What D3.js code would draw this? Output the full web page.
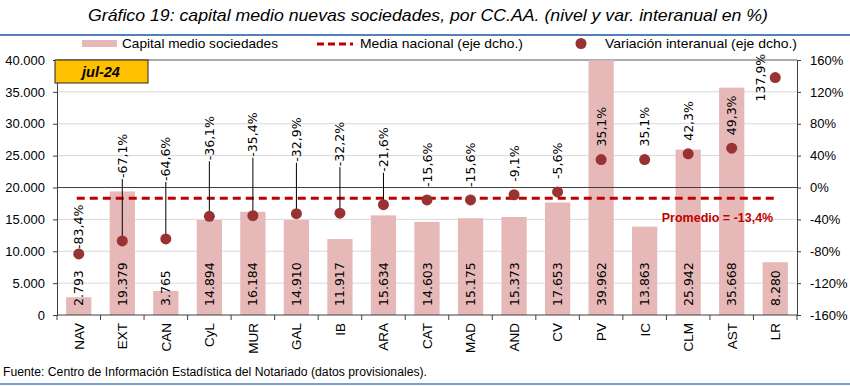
<!DOCTYPE html>
<html>
<head>
<meta charset="utf-8">
<script src="https://cdn.jsdelivr.net/npm/d3@7"></script>
<style>
  body { margin: 0; background: #fff; }
  svg { display: block; }
</style>
</head>
<body>
<div id="chart"></div>
<script>
// data
var regions = ["NAV", "EXT", "CAN", "CyL", "MUR", "GAL", "IB", "ARA", "CAT", "MAD", "AND", "CV", "PV", "IC", "CLM", "AST", "LR"];
var capitalMedio = [2793, 19379, 3765, 14894, 16184, 14910, 11917, 15634, 14603, 15175, 15373, 17653, 39962, 13863, 25942, 35668, 8280];
var variacion = [-83.4, -67.1, -64.6, -36.1, -35.4, -32.9, -32.2, -21.6, -15.6, -15.6, -9.1, -5.6, 35.1, 35.1, 42.3, 49.3, 137.9];
var mediaNacional = -13.4;
var leftTicks = [0, 5000, 10000, 15000, 20000, 25000, 30000, 35000, 40000];
var rightTicks = [-160, -120, -80, -40, 0, 40, 80, 120, 160];
var periodo = "jul-24";

// layout
const width = 850, height = 386;
const plot = { left: 57, right: 797, top: 60, bottom: 315 };
const pink = "#E6B9B8", darkRed = "#993333", red = "#C00000";
const numFont = "'DejaVu Sans', Verdana, sans-serif";
const axisFont = "'Liberation Sans', Arial, sans-serif";

// labels moved by hand in the original (px lifted above the default spot)
const labelLift = { NAV: -8, EXT: 50, CAN: 45, CyL: 43, MUR: 46, GAL: 39, IB: 34, ARA: 20 };

const es = d3.formatLocale({ decimal: ",", thousands: ".", grouping: [3], currency: ["", "€"], minus: "-" });
const fmtInt = es.format(",d");
const fmtPct = es.format(".1f");

const svg = d3.select("#chart").append("svg")
    .attr("width", width)
    .attr("height", height);

const x = d3.scaleBand()
    .domain(regions)
    .range([plot.left, plot.right])
    .paddingInner(0.42)
    .paddingOuter(0.21);

const yL = d3.scaleLinear().domain([0, 40000]).range([plot.bottom, plot.top]);
const yR = d3.scaleLinear().domain([-160, 160]).range([plot.bottom, plot.top]);

// title
svg.append("text")
    .attr("x", 88)
    .attr("y", 21)
    .attr("textLength", 680)
    .attr("lengthAdjust", "spacingAndGlyphs")
    .style("font-family", axisFont)
    .style("font-style", "italic")
    .style("font-size", "17px")
    .text("Gráfico 19: capital medio nuevas sociedades, por CC.AA. (nivel y var. interanual en %)");

svg.append("line")
    .attr("x1", 0).attr("x2", width)
    .attr("y1", 35).attr("y2", 35)
    .attr("stroke", "#4F81BD")
    .attr("stroke-width", 2);

// legend
const legend = svg.append("g").style("font-family", axisFont).style("font-size", "13.5px");
legend.append("rect").attr("x", 82).attr("y", 40).attr("width", 35).attr("height", 7).attr("fill", pink);
legend.append("text").attr("x", 122).attr("y", 48).attr("textLength", 156).attr("lengthAdjust", "spacingAndGlyphs")
    .text("Capital medio sociedades");
legend.append("line").attr("x1", 317).attr("x2", 353).attr("y1", 44).attr("y2", 44)
    .attr("stroke", red).attr("stroke-width", 3).attr("stroke-dasharray", "7,4");
legend.append("text").attr("x", 360).attr("y", 48).attr("textLength", 163).attr("lengthAdjust", "spacingAndGlyphs")
    .text("Media nacional (eje dcho.)");
legend.append("circle").attr("cx", 581).attr("cy", 43.5).attr("r", 5.5).attr("fill", darkRed);
legend.append("text").attr("x", 605).attr("y", 48).attr("textLength", 192).attr("lengthAdjust", "spacingAndGlyphs")
    .text("Variación interanual (eje dcho.)");

// gridlines
svg.append("g")
    .selectAll("line")
    .data(leftTicks.filter(d => d > 0 && d < 40000))
    .join("line")
    .attr("x1", plot.left).attr("x2", plot.right)
    .attr("y1", d => yL(d)).attr("y2", d => yL(d))
    .attr("stroke", "#D9D9D9");

// plot border top
svg.append("line")
    .attr("x1", plot.left).attr("x2", plot.right)
    .attr("y1", plot.top).attr("y2", plot.top)
    .attr("stroke", "#595959");

// bars
svg.append("g")
    .selectAll("rect")
    .data(regions)
    .join("rect")
    .attr("x", d => x(d))
    .attr("y", (d, i) => yL(capitalMedio[i]))
    .attr("width", x.bandwidth())
    .attr("height", (d, i) => plot.bottom - yL(capitalMedio[i]))
    .attr("fill", pink);

// 0% line of the right axis
svg.append("line")
    .attr("x1", plot.left).attr("x2", plot.right)
    .attr("y1", yR(0)).attr("y2", yR(0))
    .attr("stroke", "#404040");

// bar value labels
svg.append("g")
    .selectAll("text")
    .data(regions)
    .join("text")
    .attr("transform", d => "translate(" + (x(d) + x.bandwidth() / 2) + "," + (plot.bottom - 9) + ") rotate(-90)")
    .attr("dy", "0.36em")
    .style("font-family", numFont)
    .style("font-size", "12.5px")
    .text((d, i) => fmtInt(capitalMedio[i]));

// national mean
const xFirst = x(regions[0]) + x.bandwidth() / 2 - 2;
const xLast = x(regions[regions.length - 1]) + x.bandwidth() / 2;
svg.append("line")
    .attr("x1", xFirst).attr("x2", xLast)
    .attr("y1", yR(mediaNacional)).attr("y2", yR(mediaNacional))
    .attr("stroke", red)
    .attr("stroke-width", 3)
    .attr("stroke-dasharray", "8,5");

svg.append("text")
    .attr("x", xLast - 2)
    .attr("y", yR(mediaNacional) + 24)
    .attr("text-anchor", "end")
    .attr("fill", red)
    .style("font-family", axisFont)
    .style("font-weight", "bold")
    .style("font-size", "12.5px")
    .text("Promedio = " + fmtPct(mediaNacional) + "%");

// variation points + labels
const pts = regions.map((d, i) => {
    const cx = x(d) + x.bandwidth() / 2;
    const cy = yR(variacion[i]);
    const bottom = cy - 13 - (labelLift[d] || 0);
    return { key: d, v: variacion[i], cx: cx, cy: cy, bottom: bottom };
});

svg.append("g")
    .selectAll("line")
    .data(pts.filter(p => p.cy - p.bottom > 20))
    .join("line")
    .attr("x1", p => p.cx).attr("x2", p => p.cx)
    .attr("y1", p => p.bottom + 1).attr("y2", p => p.cy)
    .attr("stroke", "#000")
    .attr("stroke-width", 1);

svg.append("g")
    .selectAll("circle")
    .data(pts)
    .join("circle")
    .attr("cx", p => p.cx)
    .attr("cy", p => p.cy)
    .attr("r", 5.5)
    .attr("fill", darkRed);

svg.append("g")
    .selectAll("text")
    .data(pts)
    .join("text")
    .attr("transform", p => {
        if (p.v > 100) return "translate(" + (p.cx - 15) + "," + p.cy + ") rotate(-90)";
        return "translate(" + p.cx + "," + p.bottom + ") rotate(-90)";
    })
    .attr("text-anchor", p => p.v > 100 ? "middle" : "start")
    .attr("dy", "0.36em")
    .style("font-family", numFont)
    .style("font-size", "12.5px")
    .text(p => fmtPct(p.v) + "%");

// axes
const axL = svg.append("g")
    .attr("transform", "translate(" + plot.left + ",0)")
    .call(d3.axisLeft(yL).tickValues(leftTicks).tickSize(4).tickPadding(8).tickFormat(d => fmtInt(d)));

const axR = svg.append("g")
    .attr("transform", "translate(" + plot.right + ",0)")
    .call(d3.axisRight(yR).tickValues(rightTicks).tickSize(4).tickPadding(9).tickFormat(d => d + "%"));

[axL, axR].forEach(ax => {
    ax.select(".domain").attr("stroke", "#404040");
    ax.selectAll(".tick line").attr("stroke", "#404040");
    ax.selectAll("text")
        .attr("fill", "#000")
        .style("font-family", axisFont)
        .style("font-size", "13px");
});

// x axis
const xAxis = svg.append("g");
xAxis.append("line")
    .attr("x1", plot.left).attr("x2", plot.right)
    .attr("y1", plot.bottom).attr("y2", plot.bottom)
    .attr("stroke", "#404040");
xAxis.selectAll(".sep")
    .data(d3.range(regions.length + 1))
    .join("line")
    .attr("class", "sep")
    .attr("x1", i => plot.left + i * x.step())
    .attr("x2", i => plot.left + i * x.step())
    .attr("y1", plot.bottom).attr("y2", plot.bottom + 5)
    .attr("stroke", "#404040");
xAxis.selectAll("text")
    .data(regions)
    .join("text")
    .attr("transform", d => "translate(" + (x(d) + x.bandwidth() / 2) + "," + (plot.bottom + 8) + ") rotate(-90)")
    .attr("text-anchor", "end")
    .attr("dy", "0.36em")
    .style("font-family", axisFont)
    .style("font-size", "13.5px")
    .text(d => d);

// period box
svg.append("rect")
    .attr("x", 55).attr("y", 60)
    .attr("width", 93).attr("height", 23)
    .attr("fill", "#FFC000")
    .attr("stroke", "#262626");
svg.append("text")
    .attr("x", 101).attr("y", 77)
    .attr("text-anchor", "middle")
    .style("font-family", axisFont)
    .style("font-weight", "bold")
    .style("font-style", "italic")
    .style("font-size", "14.5px")
    .text(periodo);

// source
svg.append("text")
    .attr("x", 3).attr("y", 376)
    .attr("textLength", 424)
    .attr("lengthAdjust", "spacingAndGlyphs")
    .style("font-family", axisFont)
    .style("font-size", "12px")
    .text("Fuente: Centro de Información Estadística del Notariado (datos provisionales).");

svg.append("line")
    .attr("x1", 0).attr("x2", width)
    .attr("y1", 384).attr("y2", 384)
    .attr("stroke", "#4F81BD")
    .attr("stroke-width", 1.5);
</script>
</body>
</html>
